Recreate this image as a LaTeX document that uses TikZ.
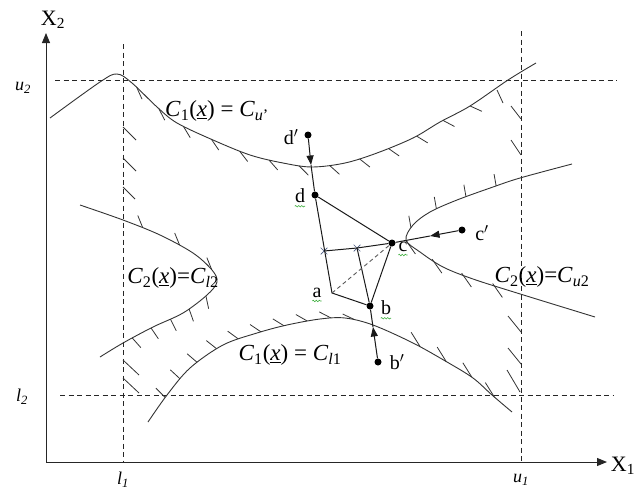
\documentclass[tikz,border=0pt]{standalone}
\usepackage{fontspec}
\setmainfont{Liberation Serif}
\usetikzlibrary{arrows.meta,decorations.markings,decorations.pathmorphing,shapes.misc}
\definecolor{curvecol}{HTML}{333333}
\definecolor{squigcol}{HTML}{3FAF3F}
\definecolor{crosscol}{HTML}{4A5A80}
\tikzset{
  curve/.style={draw=curvecol, line width=0.9pt},
  tickl/.style={draw=curvecol, line width=0.8pt},
  dashline/.style={draw=black!85, line width=0.8pt, dash pattern=on 5pt off 3.5pt},
  axisline/.style={draw=black!85, line width=1pt, -{Triangle[length=10pt,width=8pt]}},
  seg/.style={draw=black!90, line width=1pt},
  dashseg/.style={draw=black!65, line width=0.9pt, dash pattern=on 4pt off 3pt},
  arr/.style={seg, -{Triangle[length=9.5pt,width=7pt]}},
  dot/.style={circle, fill=black, inner sep=0pt, minimum size=7pt},
  crossm/.style={cross out, draw=crosscol, line width=0.7pt, minimum size=6pt, inner sep=0pt},
  lab/.style={font=\fontsize{20}{22}\selectfont, inner sep=0pt},
  flab/.style={font=\fontsize{23}{26}\selectfont, inner sep=0pt},
  alab/.style={font=\fontsize{22}{24}\selectfont, inner sep=0pt},
  blab/.style={font=\fontsize{18}{20}\selectfont\itshape, inner sep=0pt},
  squig/.style={draw=squigcol, line width=0.6pt, decorate, decoration={snake, amplitude=0.8pt, segment length=3pt}},
  hatch/.style n args={7}{postaction={decorate,decoration={markings,
    mark=between positions #1 and #2 step #3 with {
      \pgfmathsetmacro\hfrac{(\pgfkeysvalueof{/pgf/decoration/mark info/distance from start}/\pgfdecoratedpathlength-(#1))/((#2)-(#1))}
      \pgfmathsetmacro\hang{(#4)+((#5)-(#4))*\hfrac}
      \pgftransformresetnontranslations
      \draw[tickl] (\hang:-#7pt) -- (\hang:#6pt);}}}},
}
\begin{document}
\begin{tikzpicture}[x=1pt,y=-1pt]
\useasboundingbox (0,0) rectangle (642,490);

% axes
\coordinate (O) at (46,462);
\coordinate (Ytip) at (46,33);
\coordinate (Xtip) at (607,462);
\draw[axisline] (O) -- (Ytip);
\draw[axisline] (O) -- (Xtip);
\node[alab] (X2) at (53,20) {X\textsubscript{2}};
\node[alab] (X1) at (623,466) {X\textsubscript{1}};

% bounds
\draw[dashline] (55,80) -- (617,80);
\draw[dashline] (60,395) -- (614,395);
\draw[dashline] (123,44) -- (123,462);
\draw[dashline] (521,31) -- (521,462);
\node[blab] (u2) at (23,88) {u\textsubscript{2}};
\node[blab] (l2) at (22,397) {l\textsubscript{2}};
\node[blab] (l1) at (123,480) {l\textsubscript{1}};
\node[blab] (u1) at (521,480) {u\textsubscript{1}};

% hatches on bounds
\draw[tickl] (123,127) -- (136,140);
\draw[tickl] (123,158) -- (136,171);
\draw[tickl] (123,187) -- (135,199);
\draw[tickl] (123,360) -- (139,375);
\draw[tickl] (123,378) -- (139,393);
\draw[tickl] (497,90) -- (503,103);
\draw[tickl] (511,106) -- (521,119);
\draw[tickl] (511,140) -- (521,155);
\draw[tickl] (508,316) -- (521,332);
\draw[tickl] (508,348) -- (521,364);
\draw[tickl] (507,370) -- (520,392);

% C1 = Cu'
\draw[curve, hatch={0.19}{0.865}{30.7pt}{-66}{-24}{13}{0}]
  plot[smooth, tension=0.55] coordinates {(50,118) (100,82) (117,74) (132,83) (157,107) (177,123) (213,140) (250,155) (283,163) (312,167) (345,163) (377,153) (413,138) (440,122) (470,106) (508,80) (536,63)};
% C1 = Cl1
\draw[curve, hatch={0.07}{0.575}{23.8pt}{135}{155}{13}{0}, hatch={0.736}{0.95}{30pt}{122}{122}{17}{0}]
  plot[smooth, tension=0.55] coordinates {(148,422) (167,395) (190,368) (223,345) (257,333) (287,325) (320,319) (345,318) (373,325) (413,343) (447,362) (473,378) (492,395) (512,412)};
% C2 = Cl2
\draw[curve, hatch={0.22}{0.5}{40.8pt}{112}{112}{13}{0}, hatch={0.595}{0.88}{21.3pt}{-78}{-48}{13}{0}]
  plot[smooth, tension=0.55] coordinates {(80,205) (123,220) (160,235) (193,253) (212,270) (217,282) (207,295) (183,313) (153,327) (123,343) (100,357)};
% C2 = Cu2
\draw[curve, hatch={0.2}{0.45}{32pt}{100}{100}{12}{0}, hatch={0.485}{0.74}{32.7pt}{-55}{-55}{14}{3}]
  plot[smooth, tension=0.55] coordinates {(572,164) (520,178) (493,187) (457,200) (430,212) (413,225) (406,240) (420,252) (443,267) (473,279) (517,293) (595,317)};

% curve labels
\node[flab] (lcu1) at (217,111) {\textit{C}\textsubscript{1}(\underline{\textit{x}}) = \textit{C}\textsubscript{\textit{u}'}};
\node[flab] (lcl1) at (290,355) {\textit{C}\textsubscript{1}(\underline{\textit{x}}) = \textit{C}\textsubscript{\textit{l}1}};
\node[flab] (lcl2) at (173,278) {\textit{C}\textsubscript{2}(\underline{\textit{x}})=\textit{C}\textsubscript{\textit{l}2}};
\node[flab] (lcu2) at (542,277) {\textit{C}\textsubscript{2}(\underline{\textit{x}})=\textit{C}\textsubscript{\textit{u}2}};

% points
\node[dot] (dp) at (308,135) {};
\node[dot] (d) at (315,195) {};
\coordinate (a) at (332,293);
\node[dot] (b) at (370,306) {};
\node[dot] (c) at (392,243) {};
\node[dot] (bp) at (378,362) {};
\node[dot] (cp) at (462,230) {};
\coordinate (dx) at (311,165);
\coordinate (bx) at (373,327);
\coordinate (cx) at (430,236);
\node[crossm] (x1) at (324,251) {};
\node[crossm] (x2) at (357,248) {};

% connectors
\draw[seg] (d) -- (a) -- (b);
\draw[seg] (b) -- (c);
\draw[seg] (c) -- (d);
\draw[seg] (x1.center) -- (x2.center) -- (c);
\draw[seg] (x2.center) -- (b);
\draw[dashseg] (a) -- (c);
\draw[arr] (dp) -- (dx);
\draw[seg] (dx) -- (d);
\draw[arr] (bp) -- (bx);
\draw[seg] (bx) -- (b);
\draw[arr] (cp) -- (cx);
\draw[seg] (cx) -- (c);

% point labels
\node[lab] (ldp) at (291,137) {d$'$};
\node[lab] (ld) at (300,196) {d};
\node[lab] (la) at (317,293) {a};
\node[lab] (lb) at (386,308) {b};
\node[lab] (lc) at (403,247) {c};
\node[lab] (lbp) at (397,362) {b$'$};
\node[lab] (lcp) at (482,233) {c$'$};
\draw[squig] ([yshift=-3pt]ld.south west) -- ([yshift=-3pt]ld.south east);
\draw[squig] ([yshift=-3pt]la.south west) -- ([yshift=-3pt]la.south east);
\draw[squig] ([yshift=-3pt]lb.south west) -- ([yshift=-3pt]lb.south east);
\draw[squig] ([yshift=-3pt]lc.south west) -- ([yshift=-3pt]lc.south east);
\end{tikzpicture}
\end{document}
